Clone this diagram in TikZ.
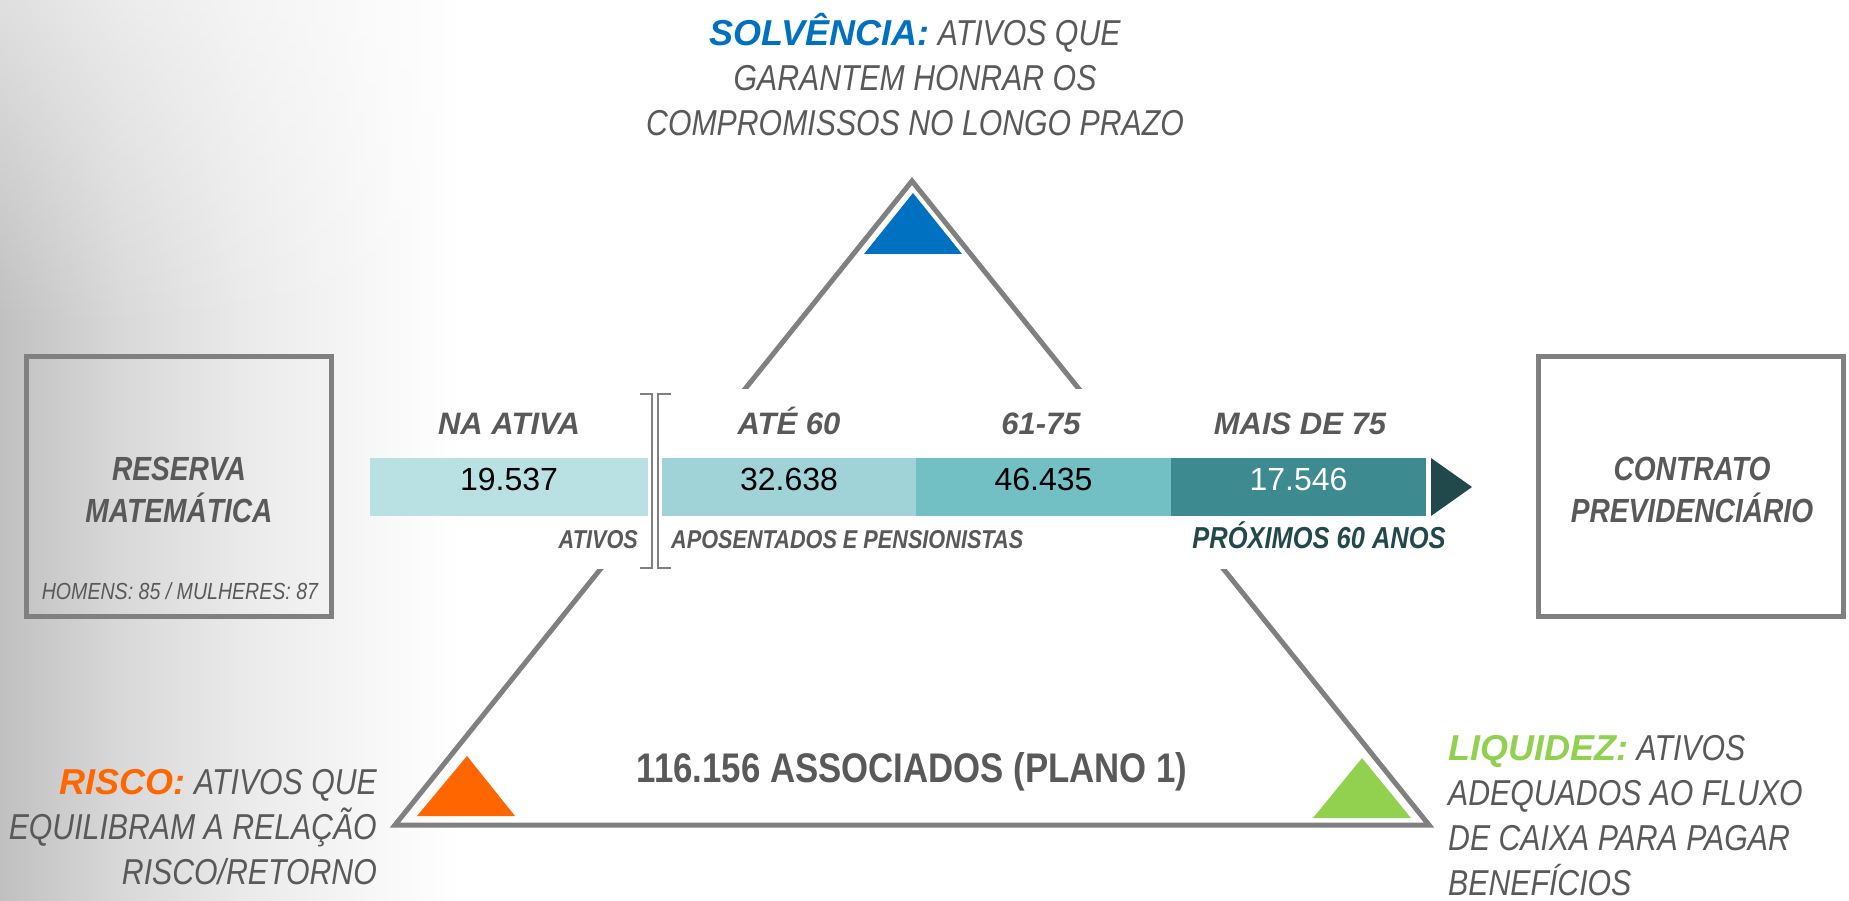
\documentclass[tikz,border=0pt]{standalone}
\usepackage{fontspec}
\setmainfont{Liberation Sans}
\newfontfamily\narrowsf[FakeStretch=0.84]{Liberation Sans}
\usetikzlibrary{fadings}
\definecolor{txtgray}{HTML}{595959}
\definecolor{linegray}{HTML}{808080}
\definecolor{bgA}{HTML}{C0C0C0}
\definecolor{bgB}{HTML}{D8D8D8}
\definecolor{bgC}{HTML}{EBEBEB}
\definecolor{bgD}{HTML}{F8F8F8}
\definecolor{solblue}{HTML}{0070C0}
\definecolor{riscoorange}{HTML}{FF6600}
\definecolor{liqgreen}{HTML}{92D050}
\definecolor{barA}{HTML}{B9E0E3}
\definecolor{barB}{HTML}{A0D3D8}
\definecolor{barC}{HTML}{72BFC4}
\definecolor{barD}{HTML}{3D8A90}
\definecolor{tealdark}{HTML}{21494B}
\pgfdeclarehorizontalshading{bgshade}{100bp}{color(0bp)=(bgA); color(25bp)=(bgA); color(28.2bp)=(bgB); color(31.8bp)=(bgC); color(35.3bp)=(bgD); color(37.5bp)=(white); color(100bp)=(white)}
\newcommand{\firstline}{\rule{0pt}{1em}}
\newcommand{\keyword}[2]{{\color{#1}\rmfamily\bfseries\itshape #2}}
\begin{document}
\begin{tikzpicture}[x=1pt,y=-1pt,
  frame/.style={draw=linegray, line width=5pt, inner sep=0pt, minimum width=305pt, minimum height=260pt},
  boxtext/.style={font=\narrowsf\bfseries\itshape\fontsize{33.5}{42}\selectfont, text=txtgray, align=center, inner sep=0pt, anchor=north},
  smalltext/.style={font=\narrowsf\itshape\fontsize{23.3}{28}\selectfont, text=txtgray, inner sep=0pt, text height=0.716em, text depth=0pt},
  bigtext/.style={font=\narrowsf\itshape\fontsize{36}{45}\selectfont, text=txtgray, inner sep=0pt},
  seg/.style={inner sep=0pt, minimum height=58pt, text height=0.716em, text depth=0pt, font=\fontsize{32}{36}\selectfont},
  head/.style={font=\bfseries\itshape\fontsize{31}{36}\selectfont, text=txtgray, inner sep=0pt, text height=0.716em, text depth=0pt},
  sublabel/.style={font=\narrowsf\bfseries\itshape\fontsize{25.8}{30}\selectfont, text=txtgray, inner sep=0pt, text height=0.716em, text depth=0pt},
  outline/.style={draw=linegray, line width=5pt, line join=miter},
  bracket/.style={draw=linegray, line width=2.5pt}
]
\useasboundingbox (0,0) rectangle (1849,901);
% background
\shade[shading=bgshade] (0,0) rectangle (1849,901);
\fill[white, fill opacity=0.5, path fading=south] (0,0) rectangle (480,330);

% big triangle
\coordinate (apex) at (912,181);
\coordinate (bright) at (1429,825);
\coordinate (bleft) at (395,825);
\draw[outline] (apex) -- (bright) -- (bleft) -- cycle;
% white band hiding the middle of the triangle
\fill[white] (560,389) rectangle (1300,569);

% side boxes
\node[frame] (reservabox) at (178.5,486) {};
\node[frame, fill=white] (contratobox) at (1691,486) {};
\node[boxtext] (reserva) at (179,446.5) {\firstline RESERVA\\MATEMÁTICA};
\node[boxtext] (contrato) at (1692,446.5) {\firstline CONTRATO\\PREVIDENCIÁRIO};
\node[smalltext] (homens) at (180,596) {HOMENS: 85 / MULHERES: 87};

% bar
\node[seg, fill=barA, minimum width=278pt] (s1) at (509,487) {19.537};
\node[seg, fill=barB, minimum width=254pt] (s2) at (789,487) {32.638};
\node[seg, fill=barC, minimum width=255pt] (s3) at (1043.5,487) {46.435};
\node[seg, fill=barD, minimum width=255pt, text=white] (s4) at (1298.5,487) {17.546};
\coordinate (tipA) at (1431,458);
\coordinate (tipB) at (1472,487);
\coordinate (tipC) at (1431,516);
\fill[tealdark] (tipA) -- (tipB) -- (tipC) -- cycle;

% headings
\node[head] (h1) at (509,431) {NA ATIVA};
\node[head] (h2) at (789,431) {ATÉ 60};
\node[head] (h3) at (1041,431) {61-75};
\node[head] (h4) at (1300,431) {MAIS DE 75};

% brackets
\draw[bracket] (640,394) -- (652,394) -- (652,568) -- (640,568);
\draw[bracket] (671,394) -- (658,394) -- (658,568) -- (671,568);

% labels under the bar
\node[sublabel, anchor=east] (ativos) at (638,545) {ATIVOS};
\node[sublabel, anchor=west] (apos) at (671,545) {APOSENTADOS E PENSIONISTAS};
\node[sublabel, text=tealdark, font=\narrowsf\bfseries\itshape\fontsize{30.3}{36}\selectfont] (prox) at (1319,545) {PRÓXIMOS 60 ANOS};

% small triangles
\fill[solblue] (913,193) -- (962,254) -- (864,254) -- cycle;
\fill[riscoorange] (467,756) -- (515,816) -- (417,816) -- cycle;
\fill[liqgreen] (1362,758) -- (1411,818) -- (1313,818) -- cycle;

% center label
\node[font=\narrowsf\bfseries\fontsize{41.4}{48}\selectfont, text=txtgray, inner sep=0pt, text height=0.716em, text depth=0pt] (assoc) at (912,779) {116.156 ASSOCIADOS (PLANO 1)};

% corner texts
\node[bigtext, align=center, anchor=north] (solv) at (915,9.5)
  {\firstline\keyword{solblue}{SOLVÊNCIA:} ATIVOS QUE\\GARANTEM HONRAR OS\\COMPROMISSOS NO LONGO PRAZO};
\node[bigtext, align=right, anchor=north east] (risco) at (377,758)
  {\firstline\keyword{riscoorange}{RISCO:} ATIVOS QUE\\EQUILIBRAM A RELAÇÃO\\RISCO/RETORNO};
\node[bigtext, align=left, anchor=north west] (liq) at (1448,724)
  {\firstline\keyword{liqgreen}{LIQUIDEZ:} ATIVOS\\ADEQUADOS AO FLUXO\\DE CAIXA PARA PAGAR\\BENEFÍCIOS};
\end{tikzpicture}
\end{document}
